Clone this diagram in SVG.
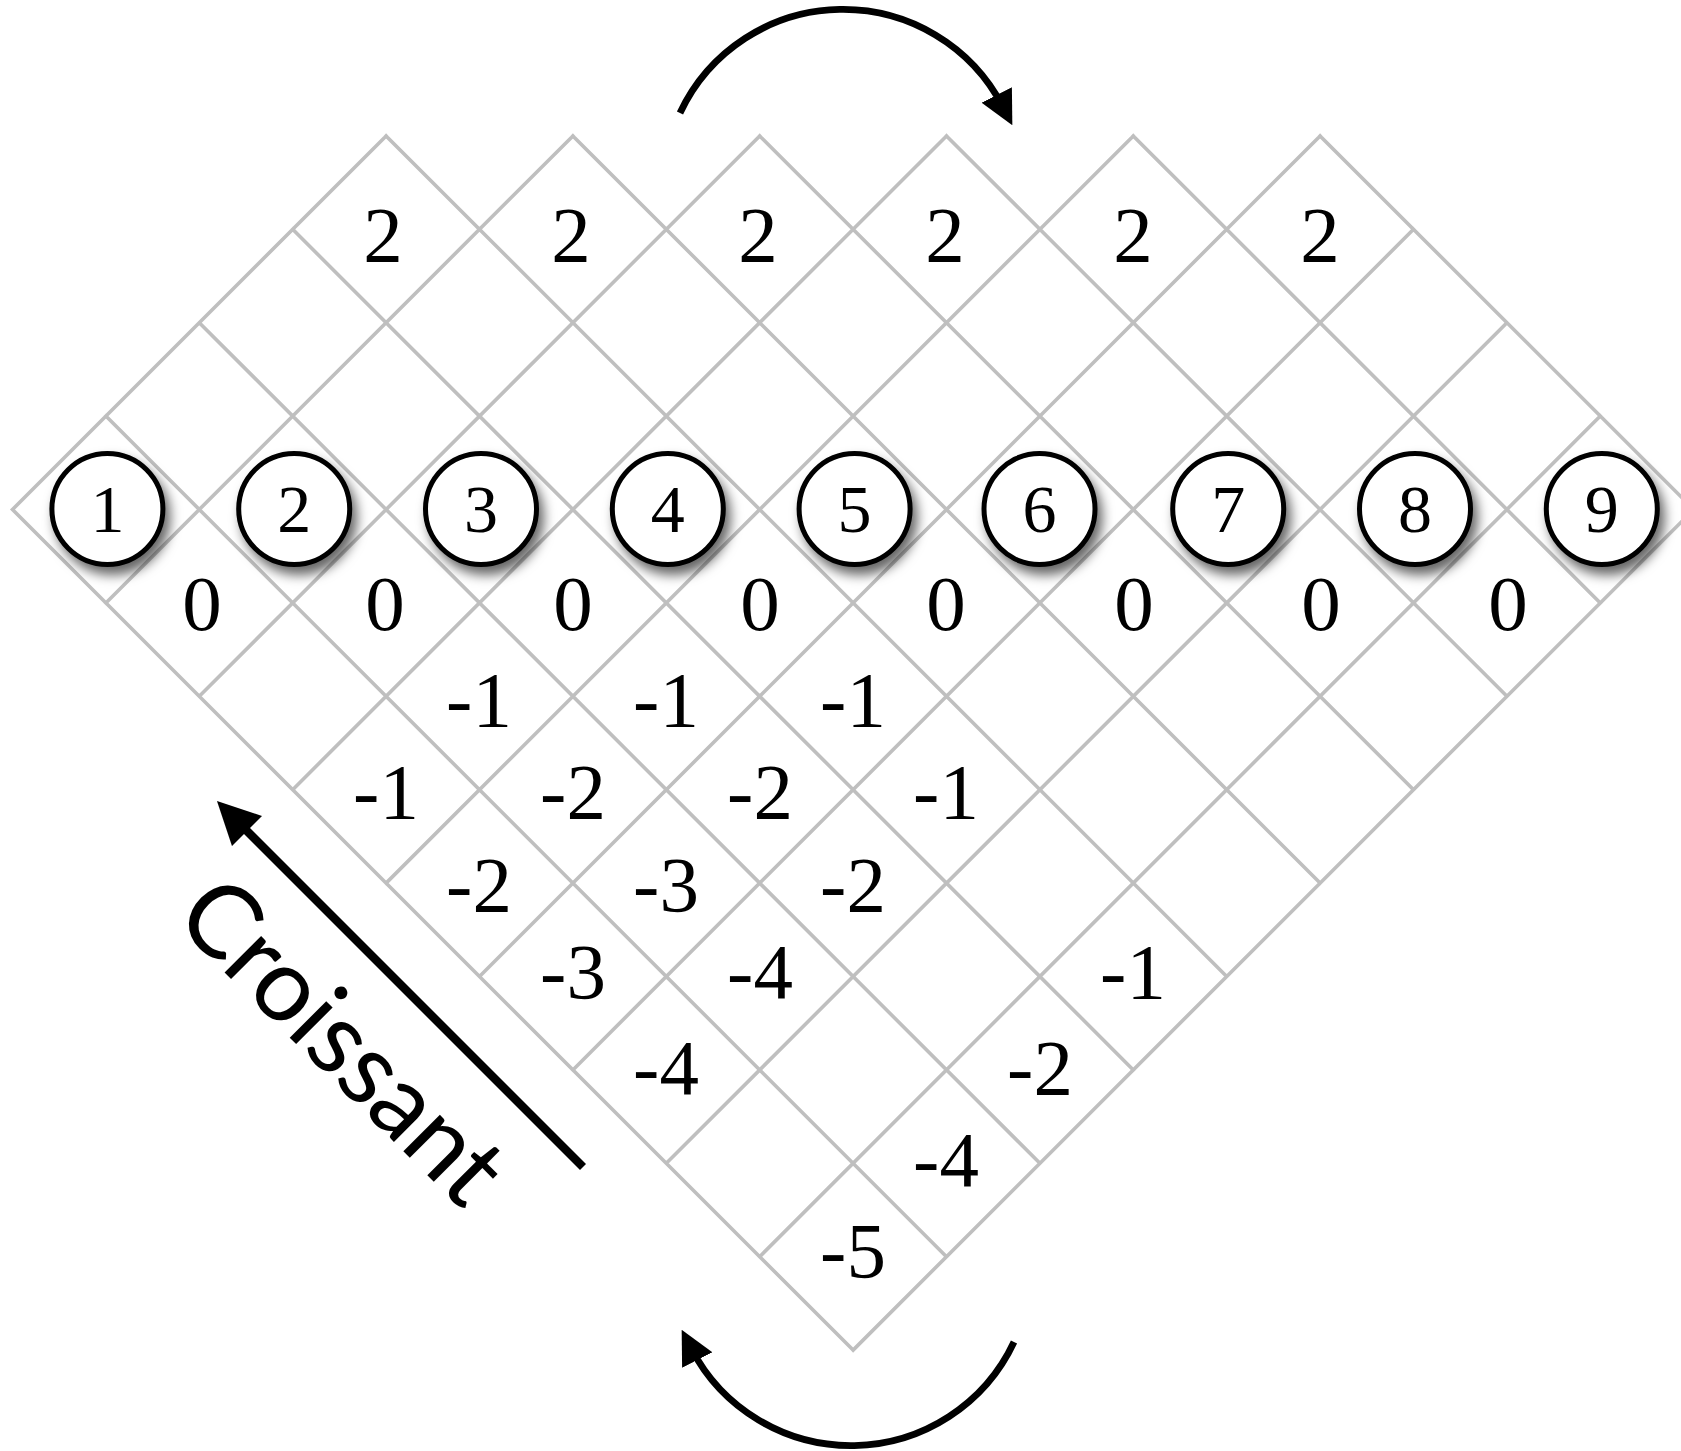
<svg xmlns="http://www.w3.org/2000/svg" width="1681" height="1451" viewBox="0 0 1681 1451">
<style>
.grid{fill:none;stroke:#bfbfbf;stroke-width:3.6;stroke-linecap:square}
.node circle{fill:#fff;stroke:#000;stroke-width:5}
.node text{font-family:"Liberation Serif","Times New Roman",serif;font-size:68px;text-anchor:middle;fill:#000}
.lbl{font-family:"Liberation Serif","Times New Roman",serif;font-size:79px;text-anchor:middle;fill:#000}
.arc{fill:none;stroke:#000;stroke-width:6.8;marker-end:url(#ah)}
.dir{fill:none;stroke:#000;stroke-width:8.5;marker-end:url(#ah)}
.cap{font-family:Lato,"Open Sans",sans-serif;font-size:102px;fill:#000}
</style>
<defs>
<marker id="ah" viewBox="0 0 10 10" refX="4" refY="5" markerWidth="5" markerHeight="5" markerUnits="strokeWidth" orient="auto">
<path d="M0,0 L10,5 L0,10 Z" fill="#000"/>
</marker>
<filter id="sh" x="-30%" y="-30%" width="170%" height="170%">
<feDropShadow dx="5" dy="8" stdDeviation="6" flood-color="#000" flood-opacity="0.6"/>
</filter>
</defs>
<rect width="1681" height="1451" fill="#fff"/>
<g id="grid">
<path class="grid" d="M12.5,509.5 L386.1,135.9 M105.9,602.9 L572.9,135.9 M199.3,696.3 L759.7,135.9 M292.7,789.7 L946.5,135.9 M386.1,883.1 L1133.3,135.9 M479.5,976.5 L1320.1,135.9 M572.9,1069.9 L1413.5,229.3 M666.3,1163.3 L1506.9,322.7 M759.7,1256.7 L1600.3,416.1 M853.1,1350.1 L1693.7,509.5 M12.5,509.5 L853.1,1350.1 M105.9,416.1 L946.5,1256.7 M199.3,322.7 L1039.9,1163.3 M292.7,229.3 L1133.3,1069.9 M386.1,135.9 L1226.7,976.5 M572.9,135.9 L1320.1,883.1 M759.7,135.9 L1413.5,789.7 M946.5,135.9 L1506.9,696.3 M1133.3,135.9 L1600.3,602.9 M1320.1,135.9 L1693.7,509.5"/>
</g>
<g id="labels">
<text class="lbl" x="383" y="261">2</text>
<text class="lbl" x="571" y="261">2</text>
<text class="lbl" x="758" y="261">2</text>
<text class="lbl" x="945" y="261">2</text>
<text class="lbl" x="1133" y="261">2</text>
<text class="lbl" x="1320" y="261">2</text>
<text class="lbl" x="202" y="630">0</text>
<text class="lbl" x="385" y="630">0</text>
<text class="lbl" x="573" y="630">0</text>
<text class="lbl" x="760" y="630">0</text>
<text class="lbl" x="946" y="630">0</text>
<text class="lbl" x="1134" y="630">0</text>
<text class="lbl" x="1321" y="630">0</text>
<text class="lbl" x="1508" y="630">0</text>
<text class="lbl" x="479" y="726">-1</text>
<text class="lbl" x="666" y="726">-1</text>
<text class="lbl" x="853" y="726">-1</text>
<text class="lbl" x="386" y="818">-1</text>
<text class="lbl" x="573" y="818">-2</text>
<text class="lbl" x="760" y="818">-2</text>
<text class="lbl" x="946" y="818">-1</text>
<text class="lbl" x="479" y="911">-2</text>
<text class="lbl" x="666" y="911">-3</text>
<text class="lbl" x="853" y="911">-2</text>
<text class="lbl" x="573" y="998">-3</text>
<text class="lbl" x="760" y="998">-4</text>
<text class="lbl" x="1133" y="998">-1</text>
<text class="lbl" x="666" y="1094">-4</text>
<text class="lbl" x="1040" y="1094">-2</text>
<text class="lbl" x="946" y="1186">-4</text>
<text class="lbl" x="853" y="1277">-5</text>
</g>
<g id="node-1" class="node" filter="url(#sh)"><circle cx="107.4" cy="509" r="55.5"/><text x="107.4" y="532">1</text></g>
<g id="node-2" class="node" filter="url(#sh)"><circle cx="294.2" cy="509" r="55.5"/><text x="294.2" y="532">2</text></g>
<g id="node-3" class="node" filter="url(#sh)"><circle cx="481" cy="509" r="55.5"/><text x="481" y="532">3</text></g>
<g id="node-4" class="node" filter="url(#sh)"><circle cx="667.8" cy="509" r="55.5"/><text x="667.8" y="532">4</text></g>
<g id="node-5" class="node" filter="url(#sh)"><circle cx="854.6" cy="509" r="55.5"/><text x="854.6" y="532">5</text></g>
<g id="node-6" class="node" filter="url(#sh)"><circle cx="1039.5" cy="509" r="55.5"/><text x="1039.5" y="532">6</text></g>
<g id="node-7" class="node" filter="url(#sh)"><circle cx="1228.2" cy="509" r="55.5"/><text x="1228.2" y="532">7</text></g>
<g id="node-8" class="node" filter="url(#sh)"><circle cx="1415" cy="509" r="55.5"/><text x="1415" y="532">8</text></g>
<g id="node-9" class="node" filter="url(#sh)"><circle cx="1601.8" cy="509" r="55.5"/><text x="1601.8" y="532">9</text></g>
<g id="connectors">
<path class="arc" d="M680,113 A180,180 0 0 1 1003,107"/>
<path class="arc" d="M1014,1342 A180,180 0 0 1 691,1348"/>
<path class="dir" d="M583,1167 L235,819"/>
</g>
<g id="caption">
<text class="cap" transform="translate(172,920) rotate(45)" textLength="412">Croissant</text>
</g>
</svg>
